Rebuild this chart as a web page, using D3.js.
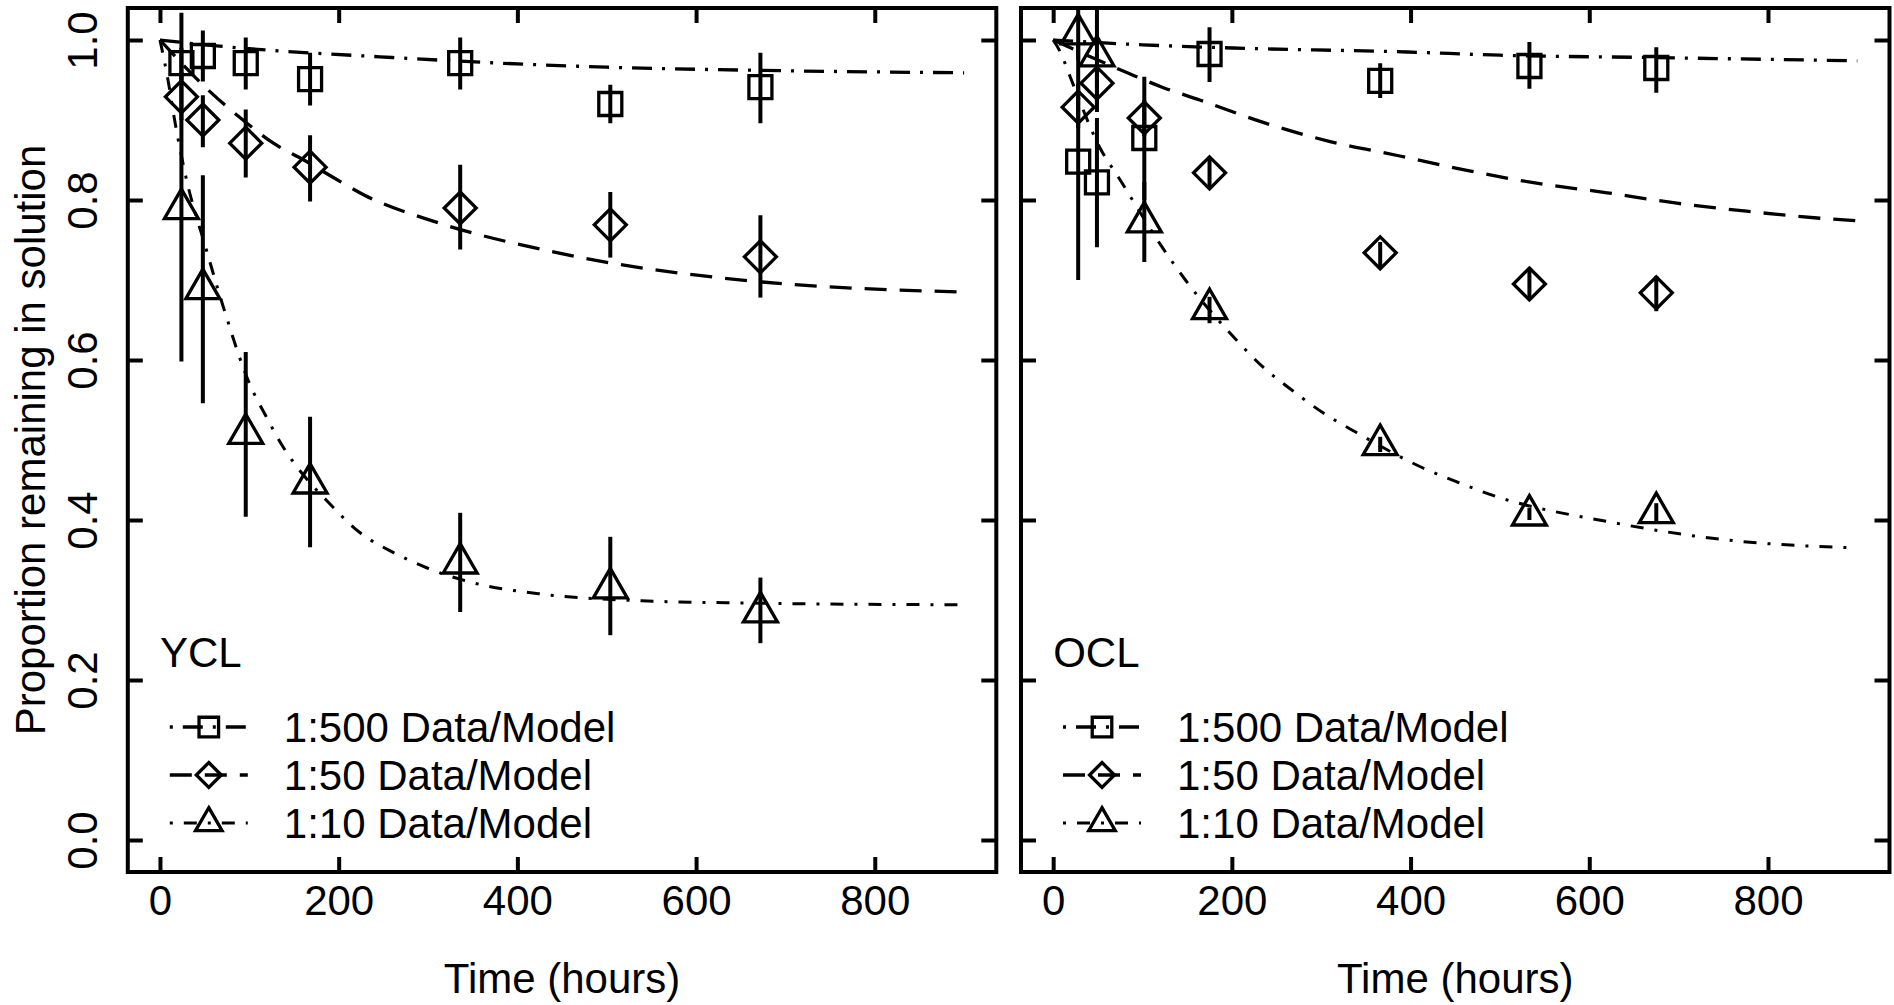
<!DOCTYPE html>
<html>
<head>
<meta charset="utf-8">
<script src="https://cdn.jsdelivr.net/npm/d3@7/dist/d3.min.js"></script>
<style>
  body { margin: 0; background: #fff; }
  text { font-family: "Liberation Sans", Arial, sans-serif; fill: #000; }
</style>
</head>
<body>
<div id="chart"></div>
<script>
// axis ticks
const xTicks = [0, 200, 400, 600, 800];
const yTicks = [0, 0.2, 0.4, 0.6, 0.8, 1.0];
const series = ["1:500", "1:50", "1:10"];

// YCL data (time in hours)
const yclTime = [24, 48, 96, 168, 336, 504, 672];
const ycl500 = [0.971, 0.980, 0.971, 0.951, 0.971, 0.920, 0.941];
const ycl500Lo = [0.950, 0.948, 0.938, 0.918, 0.938, 0.896, 0.896];
const ycl500Hi = [0.990, 1.012, 1.003, 0.984, 1.003, 0.944, 0.984];
const ycl50 = [0.929, 0.900, 0.871, 0.841, 0.790, 0.769, 0.729];
const ycl50Lo = [0.900, 0.866, 0.828, 0.798, 0.738, 0.728, 0.678];
const ycl50Hi = [0.960, 0.931, 0.913, 0.881, 0.844, 0.810, 0.781];
const ycl10 = [0.789, 0.689, 0.508, 0.446, 0.346, 0.315, 0.285];
const ycl10Lo = [0.598, 0.546, 0.404, 0.366, 0.285, 0.256, 0.246];
const ycl10Hi = [1.034, 0.831, 0.610, 0.529, 0.409, 0.379, 0.328];

// YCL model curves
const ycl500ModelT = [0, 50, 119, 246, 382, 500, 674, 900];
const ycl500ModelV = [1.0, 0.994, 0.9875, 0.979, 0.971, 0.966, 0.962, 0.959];
const ycl50ModelT = [0, 54, 94, 127, 161, 195, 229, 313, 430, 506, 674, 900];
const ycl50ModelV = [1.0, 0.9375, 0.899, 0.871, 0.85, 0.8275, 0.806, 0.771, 0.7375, 0.721, 0.6975, 0.685];
const ycl10ModelT = [0, 9, 16, 29, 52, 71, 100, 119, 138, 156, 186, 224, 262, 299, 347, 430, 539, 671, 900];
const ycl10ModelV = [1.0, 0.95, 0.9025, 0.829, 0.7375, 0.666, 0.571, 0.529, 0.491, 0.4625, 0.425, 0.384, 0.359, 0.34, 0.3225, 0.307, 0.299, 0.296, 0.294];

// OCL data
const oclTime = [28, 49, 102, 175, 366, 533, 675];
const ocl500 = [0.848, 0.822, 0.8775, 0.9825, 0.949, 0.9675, 0.965];
const ocl500Lo = [0.700, 0.741, 0.800, 0.9475, 0.9275, 0.939, 0.934];
const ocl500Hi = [0.995, 0.9025, 0.954, 1.016, 0.971, 0.9975, 0.991];
const ocl50 = [0.916, 0.946, 0.9025, 0.834, 0.734, 0.695, 0.684];
const ocl50Lo = [0.890, 0.920, 0.880, 0.815, 0.716, 0.675, 0.661];
const ocl50Hi = [0.945, 0.970, 0.925, 0.8525, 0.7475, 0.715, 0.705];
const ocl10 = [1.0075, 0.980, 0.7725, 0.664, 0.494, 0.406, 0.409];
const ocl10Lo = [0.975, 0.910, 0.7225, 0.646, 0.485, 0.400, 0.3975];
const ocl10Hi = [1.04, 1.04, 0.8225, 0.679, 0.504, 0.415, 0.421];

// OCL model curves
const ocl500ModelT = [0, 100, 201, 396, 500, 675, 900];
const ocl500ModelV = [1.0, 0.994, 0.99, 0.985, 0.981, 0.978, 0.974];
const ocl50ModelT = [0, 83, 122, 164, 235, 310, 388, 463, 541, 620, 698, 776, 855, 900];
const ocl50ModelV = [1.0, 0.959, 0.941, 0.925, 0.897, 0.873, 0.855, 0.837, 0.821, 0.809, 0.796, 0.786, 0.7775, 0.774];
const ocl10ModelT = [0, 8, 19, 52, 75, 122, 148, 203, 235, 267, 302, 340, 414, 452, 497, 623, 754, 900];
const ocl10ModelV = [1.0, 0.985, 0.954, 0.866, 0.825, 0.741, 0.70, 0.6275, 0.591, 0.5625, 0.534, 0.509, 0.465, 0.4475, 0.429, 0.3975, 0.375, 0.365];

const width = 1894, height = 1005;
const plotW = 868.5, plotH = 864, plotTop = 8;
const fontSize = 42;

// line styles per series: dash patterns like R's lty
const lineStyle = {
    "1:500": { dash: "20 10 3 10", legendDash: "3 10 20 10", w: 3.3 },
    "1:50": { dash: "22 13", legendDash: "22 13", w: 3.3 },
    "1:10": { dash: "13 11 3 11", legendDash: "3 11 13 11", w: 3 }
};

// open marker shapes, centred on the point
function markerPath(type, s) {
    if (type === "1:500") {
        const h = 11.5 * s;
        return `M${-h},${-h}H${h}V${h}H${-h}Z`;
    }
    if (type === "1:50") {
        const h = 16 * s;
        return `M0,${-h}L${h},0L0,${h}L${-h},0Z`;
    }
    const side = 34 * s, r = side / Math.sqrt(3);
    return `M0,${-r}L${side / 2},${r / 2}L${-side / 2},${r / 2}Z`;
}

const svg = d3.select("#chart").append("svg")
    .attr("width", width).attr("height", height);
svg.append("rect").attr("width", width).attr("height", height).attr("fill", "#fff");

function drawPanel(left, label, time, vals, models, showYLabels, clipId) {
    const x = d3.scaleLinear().domain([-36, 936]).range([0, plotW]);
    const y = d3.scaleLinear().domain([-0.04, 1.04]).range([plotH, 0]);
    const g = svg.append("g").attr("transform", `translate(${left},${plotTop})`);

    g.append("clipPath").attr("id", clipId)
        .append("rect").attr("width", plotW).attr("height", plotH);
    const inner = g.append("g").attr("clip-path", `url(#${clipId})`);

    // model curves
    const line = d3.line().x(d => x(d[0])).y(d => y(d[1])).curve(d3.curveMonotoneX);
    series.forEach((s, i) => {
        const pts = models[i][0].map((t, j) => [t, models[i][1][j]]);
        inner.append("path").attr("d", line(pts))
            .attr("fill", "none").attr("stroke", "#000")
            .attr("stroke-width", lineStyle[s].w)
            .attr("stroke-dasharray", lineStyle[s].dash);
    });

    // error bars and points
    series.forEach((s, i) => {
        const [v, lo, hi] = vals[i];
        time.forEach((t, j) => {
            inner.append("line")
                .attr("x1", x(t)).attr("x2", x(t))
                .attr("y1", y(lo[j])).attr("y2", y(hi[j]))
                .attr("stroke", "#000").attr("stroke-width", 4);
        });
        inner.selectAll(null).data(time).join("path")
            .attr("transform", (t, j) => `translate(${x(t)},${y(v[j])})`)
            .attr("d", markerPath(s, 1))
            .attr("fill", "none").attr("stroke", "#000").attr("stroke-width", 3.3);
    });

    // axes with inward ticks
    const axB = g.append("g").attr("transform", `translate(0,${plotH})`)
        .call(d3.axisBottom(x).tickValues(xTicks).tickSize(-15).tickPadding(13).tickFormat(d3.format("d")));
    const axT = g.append("g")
        .call(d3.axisTop(x).tickValues(xTicks).tickSize(-15).tickFormat(""));
    const axL = g.append("g")
        .call(d3.axisLeft(y).tickValues(yTicks).tickSize(-15).tickFormat(d3.format(".1f")));
    const axR = g.append("g").attr("transform", `translate(${plotW},0)`)
        .call(d3.axisRight(y).tickValues(yTicks).tickSize(-15).tickFormat(""));
    [axB, axT, axL, axR].forEach(a => {
        a.select(".domain").remove();
        a.selectAll(".tick line").attr("stroke-width", 4);
        a.selectAll("text").attr("font-size", fontSize)
            .attr("font-family", "Liberation Sans, Arial, sans-serif").attr("fill", "#000");
    });
    if (showYLabels) {
        axL.selectAll(".tick text")
            .attr("x", null).attr("dy", null)
            .attr("text-anchor", "middle")
            .attr("transform", "translate(-31,0) rotate(-90)");
    } else {
        axL.selectAll(".tick text").remove();
    }

    // box
    g.append("rect").attr("width", plotW).attr("height", plotH)
        .attr("fill", "none").attr("stroke", "#000").attr("stroke-width", 4);

    // panel label
    g.append("text").attr("x", x(0)).attr("y", 659).attr("font-size", fontSize).text(label);

    // legend
    const legY = [719, 767, 815];
    series.forEach((s, i) => {
        const row = g.append("g").attr("transform", `translate(42,${legY[i]})`);
        row.append("line").attr("x1", 0).attr("x2", 78)
            .attr("stroke", "#000").attr("stroke-width", lineStyle[s].w)
            .attr("stroke-dasharray", lineStyle[s].legendDash);
        row.append("path").attr("transform", "translate(39,0)")
            .attr("d", markerPath(s, s === "1:500" ? 0.85 : 0.78))
            .attr("fill", "none").attr("stroke", "#000").attr("stroke-width", 3.3);
        row.append("text").attr("x", 114).attr("dy", "0.36em")
            .attr("font-size", fontSize).text(`${s} Data/Model`);
    });

    // x title
    g.append("text").attr("x", plotW / 2).attr("y", 985)
        .attr("text-anchor", "middle").attr("font-size", fontSize).text("Time (hours)");
}

drawPanel(127.8, "YCL", yclTime,
    [[ycl500, ycl500Lo, ycl500Hi], [ycl50, ycl50Lo, ycl50Hi], [ycl10, ycl10Lo, ycl10Hi]],
    [[ycl500ModelT, ycl500ModelV], [ycl50ModelT, ycl50ModelV], [ycl10ModelT, ycl10ModelV]],
    true, "clipL");

drawPanel(1021, "OCL", oclTime,
    [[ocl500, ocl500Lo, ocl500Hi], [ocl50, ocl50Lo, ocl50Hi], [ocl10, ocl10Lo, ocl10Hi]],
    [[ocl500ModelT, ocl500ModelV], [ocl50ModelT, ocl50ModelV], [ocl10ModelT, ocl10ModelV]],
    false, "clipR");

// y title
svg.append("text").attr("transform", "translate(45,440) rotate(-90)")
    .attr("text-anchor", "middle").attr("font-size", fontSize)
    .text("Proportion remaining in solution");
</script>
</body>
</html>
